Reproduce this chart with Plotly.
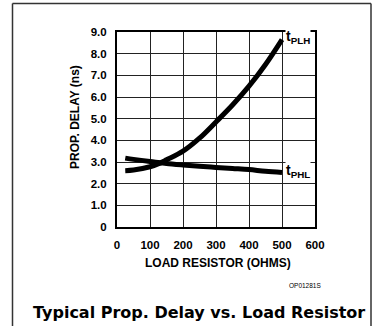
import plotly.graph_objects as go

# Load resistor values (ohms) and propagation delays (ns)
r_plh = [25, 50, 100, 130, 150, 200, 250, 300, 350, 400, 450, 500]
t_plh = [2.6, 2.63, 2.78, 2.95, 3.1, 3.5, 4.1, 4.85, 5.63, 6.5, 7.5, 8.65]

r_phl = [25, 50, 100, 130, 150, 200, 250, 300, 350, 400, 450, 500]
t_phl = [3.18, 3.12, 3.02, 2.97, 2.93, 2.86, 2.8, 2.75, 2.7, 2.65, 2.57, 2.52]

x_ticks = [0, 100, 200, 300, 400, 500, 600]
x_tick_text = ["0", "100", "200", "300", "400", "500", "600"]
y_ticks = [0, 1, 2, 3, 4, 5, 6, 7, 8, 9]
y_tick_text = ["0", "1.0", "2.0", "3.0", "4.0", "5.0", "6.0", "7.0", "8.0", "9.0"]

W, H = 373, 326
ML, MR, MT, MB = 117, 58, 32, 99
PW, PH = W - ML - MR, H - MT - MB


def px_x(px):
    return (px - ML) / PW


def px_y(py):
    return 1 - (py - MT) / PH


TICK_FONT = dict(family="Liberation Sans", size=11.5, color="black", weight="bold")
LABEL_FONT = dict(family="Liberation Sans", size=14, color="black", weight="bold")

fig = go.Figure()
fig.add_trace(go.Scatter(x=r_plh, y=t_plh, mode="lines", line=dict(color="black", width=5, shape="spline"),
                         showlegend=False, hoverinfo="skip"))
fig.add_trace(go.Scatter(x=r_phl, y=t_phl, mode="lines", line=dict(color="black", width=5, shape="spline"),
                         showlegend=False, hoverinfo="skip"))

# Curve labels at the right-hand ends
fig.add_annotation(x=r_plh[-1], y=t_plh[-1], xref="x", yref="y", text="t<sub>PLH</sub>",
                   xanchor="left", yanchor="middle", xshift=3, yshift=3, showarrow=False,
                   bgcolor="white", borderpad=0, font=LABEL_FONT)
fig.add_annotation(x=r_phl[-1], y=t_phl[-1], xref="x", yref="y", text="t<sub>PHL</sub>",
                   xanchor="left", yanchor="middle", xshift=3, yshift=1, showarrow=False,
                   bgcolor="white", borderpad=0, font=LABEL_FONT)

# Axis titles
fig.add_annotation(x=px_x(75), y=px_y(117), xref="paper", yref="paper", text="PROP. DELAY (ns)",
                   textangle=-90, showarrow=False, xanchor="center", yanchor="middle",
                   font=dict(family="Liberation Sans", size=12, color="black", weight="bold"))
fig.add_annotation(x=px_x(218), y=px_y(263), xref="paper", yref="paper", text="LOAD RESISTOR (OHMS)",
                   showarrow=False, xanchor="center", yanchor="middle",
                   font=dict(family="Liberation Sans", size=12, color="black", weight="bold"))
fig.add_annotation(x=px_x(305), y=px_y(285), xref="paper", yref="paper", text="OP01281S",
                   showarrow=False, xanchor="center", yanchor="middle",
                   font=dict(family="Liberation Sans", size=6.5, color="black"))
fig.add_annotation(x=px_x(198.5), y=px_y(312), xref="paper", yref="paper",
                   text="Typical Prop. Delay vs. Load Resistor",
                   showarrow=False, xanchor="center", yanchor="middle",
                   font=dict(family="DejaVu Sans", size=16, color="black", weight="bold"))

# Outer frame
frame = dict(color="#333", width=1.5)
fig.add_shape(type="line", xref="paper", yref="paper", x0=px_x(12.5), x1=px_x(12.5),
              y0=px_y(3.5), y1=px_y(330), line=frame)
fig.add_shape(type="line", xref="paper", yref="paper", x0=px_x(12.5), x1=px_x(371),
              y0=px_y(3.5), y1=px_y(3.5), line=frame)
fig.add_shape(type="line", xref="paper", yref="paper", x0=px_x(371), x1=px_x(371),
              y0=px_y(3.5), y1=px_y(330), line=frame)

fig.update_xaxes(range=[0, 600], tickvals=x_ticks, ticktext=x_tick_text, showgrid=True,
                 gridcolor="#222", gridwidth=1, showline=True, linecolor="black", linewidth=2,
                 mirror=True, ticks="", ticklabelstandoff=6, tickfont=TICK_FONT, zeroline=False,
                 fixedrange=True)
fig.update_yaxes(range=[0, 9], tickvals=y_ticks, ticktext=y_tick_text, showgrid=True,
                 gridcolor="#222", gridwidth=1, showline=True, linecolor="black", linewidth=2,
                 mirror=True, ticks="", ticklabelstandoff=6, tickfont=TICK_FONT, zeroline=False,
                 fixedrange=True)

fig.update_layout(width=W, height=H, margin=dict(l=ML, r=MR, t=MT, b=MB, autoexpand=False),
                  plot_bgcolor="white", paper_bgcolor="white")

fig.write_html("out.html", config={"displayModeBar": False})
